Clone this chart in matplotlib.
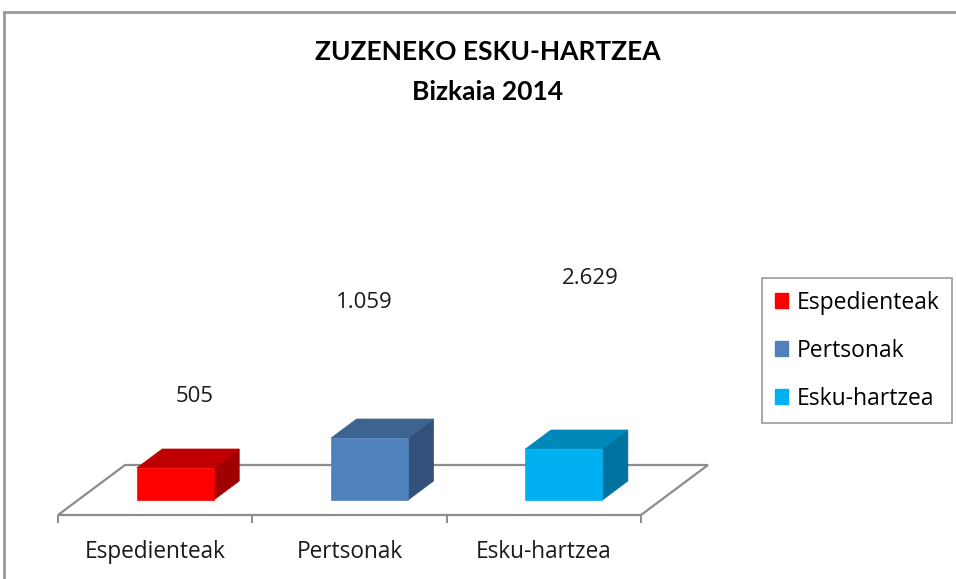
import matplotlib
matplotlib.use("Agg")
import matplotlib.pyplot as plt
from matplotlib.patches import Polygon, Patch
from matplotlib.lines import Line2D

# ---- data ----
categories = ["Espedienteak", "Pertsonak", "Esku-hartzea"]
values = [505, 1059, 2629]
value_labels = ["505", "1.059", "2.629"]
# apparent bar heights as drawn in the picture (display units)
bar_heights = [32, 62, 51]
title_lines = ["ZUZENEKO ESKU-HARTZEA", "Bizkaia 2014"]

# ---- styles ----
front_cols = ["#FF0000", "#4F81BD", "#00B0F0"]
top_cols = ["#C00000", "#3D6490", "#0088BB"]
side_cols = ["#A00000", "#32517A", "#0072A0"]
grid_col = "#8C8C8C"
FONT = ["Open Sans", "DejaVu Sans"]
plt.rcParams["font.family"] = FONT

W, H = 956, 579
fig = plt.figure(figsize=(W / 100, H / 100), dpi=100)
ax = fig.add_axes([58 / W, (H - 515) / H, 583 / W, 400 / H])
ax.set_xlim(-0.5, 2.5)
ax.set_ylim(0, 400)
ax.patch.set_visible(False)
for s in ax.spines.values():
    s.set_visible(False)

DX = 67 / 194.33   # full floor depth in x units
DY = 50            # full floor depth in y units


def proj(x, y, d):
    return (x + DX * d, y + DY * d)


# floor
floor = Polygon([proj(-0.5, 0, 0), proj(2.5, 0, 0), proj(2.5, 0, 1), proj(-0.5, 0, 1)],
                closed=True, facecolor="white", edgecolor=grid_col, lw=1.6,
                clip_on=False, zorder=1)
ax.add_patch(floor)

# bars
hw = 0.198
d0, d1 = 0.30, 0.68
for i, h in enumerate(bar_heights):
    x0, x1 = i - hw, i + hw
    front = [proj(x0, 0, d0), proj(x1, 0, d0), proj(x1, h, d0), proj(x0, h, d0)]
    top = [proj(x0, h, d0), proj(x1, h, d0), proj(x1, h, d1), proj(x0, h, d1)]
    side = [proj(x1, 0, d0), proj(x1, 0, d1), proj(x1, h, d1), proj(x1, h, d0)]
    for poly, c in ((side, side_cols[i]), (top, top_cols[i]), (front, front_cols[i])):
        ax.add_patch(Polygon(poly, closed=True, facecolor=c, edgecolor=c, lw=0.5,
                             clip_on=False, zorder=3))

# data labels (as placed in the reference)
label_offsets = [(0.205, 86), (0.075, 151), (0.238, 186)]
for i, (lab, (ox, oy)) in enumerate(zip(value_labels, label_offsets)):
    ax.text(i + ox, bar_heights[i] + oy, lab, ha="center", va="center",
            fontsize=16, color="#1a1a1a", zorder=5)

# ticks
ax.set_xticks(range(len(categories)))
ax.set_xticklabels(categories, fontsize=16.3, color="#1a1a1a")
ax.tick_params(axis="x", which="major", length=0, pad=18)
ax.set_xticks([-0.5, 0.5, 1.5, 2.5], minor=True)
ax.tick_params(axis="x", which="minor", length=5.5, width=1.4, color=grid_col)
ax.set_yticks([])

# title (two lines)
for line, ypx in zip(title_lines, [52, 92]):
    fig.text(488 / W, 1 - ypx / H, line, ha="center", va="center", fontsize=19,
             fontweight="bold", color="black", family=["Lato", "DejaVu Sans"])

# legend
handles = [Patch(facecolor=c, edgecolor=c) for c in front_cols]
leg = fig.legend(handles, categories, loc="upper left",
                 bbox_to_anchor=(762 / W, 1 - 278 / H), fontsize=16.5,
                 frameon=True, fancybox=False, handlelength=0.6, handleheight=0.6,
                 handletextpad=0.35, labelspacing=1.05, borderpad=0.55,
                 borderaxespad=0)
leg.get_frame().set_edgecolor(grid_col)
leg.get_frame().set_linewidth(1.3)

# outer chart border (top and left visible)
fig.add_artist(Line2D([4 / W, 1.0], [1 - 12 / H, 1 - 12 / H], transform=fig.transFigure,
                      color="#999999", lw=2))
fig.add_artist(Line2D([4 / W, 4 / W], [0, 1 - 12 / H], transform=fig.transFigure,
                      color="#999999", lw=2))

fig.savefig("out.png", dpi=100, facecolor="white")
